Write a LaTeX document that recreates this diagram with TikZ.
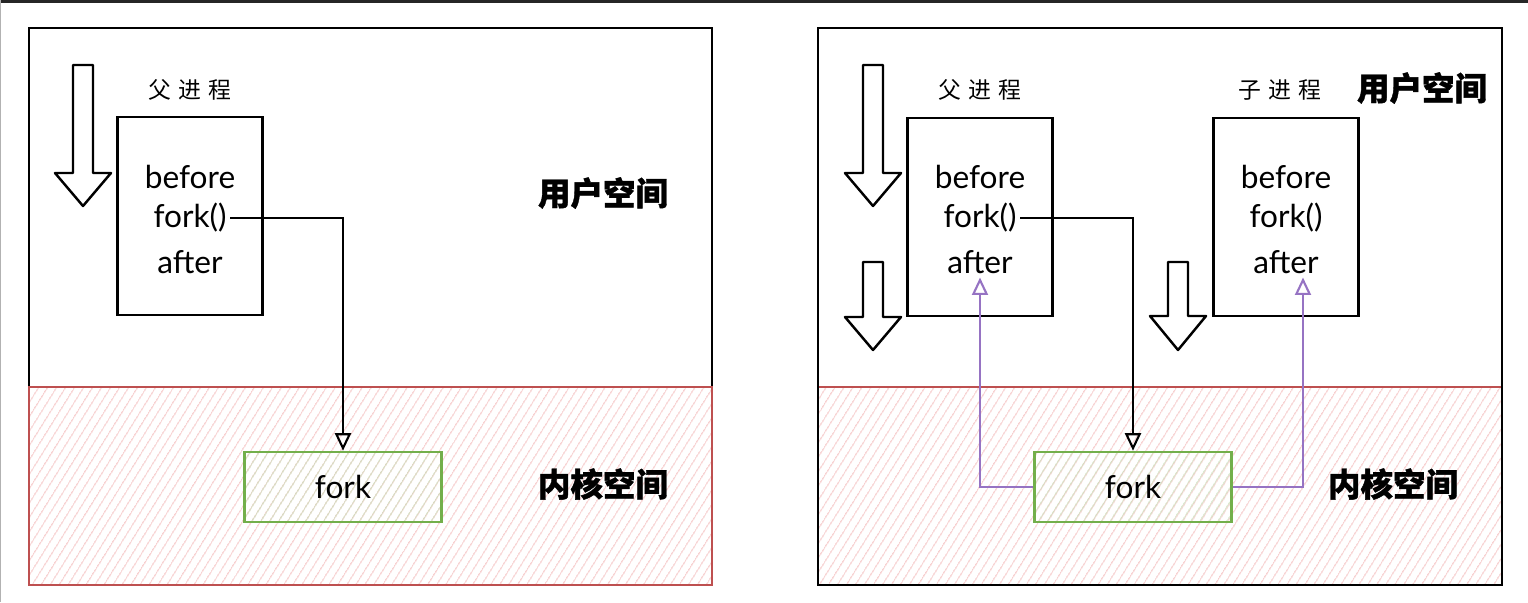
\documentclass[tikz,border=0pt]{standalone}
\usepackage{fontspec}
\setmainfont{Lato}
\newfontfamily\cjk{Noto Sans CJK SC}
\usepackage{xcolor}
\usetikzlibrary{arrows.meta,positioning,patterns.meta}

\definecolor{kred}{RGB}{190,80,80}
\definecolor{khatch}{RGB}{242,180,180}
\definecolor{kgreen}{RGB}{115,175,75}
\definecolor{kpurple}{RGB}{150,115,195}

\begin{document}
\begin{tikzpicture}[x=0.02cm, y=-0.02cm,
  space/.style={draw, line width=1.2pt},
  kernel/.style={draw=kred, line width=1.1pt,
                 pattern={Lines[angle=58, distance=4pt, line width=0.55pt]},
                 pattern color=khatch},
  proc/.style={draw, line width=1.2pt, minimum width=2.9cm,
               minimum height=3.96cm},
  code/.style={font=\fontsize{18}{22}\selectfont, inner sep=2pt},
  sys/.style={draw=kgreen, line width=1.5pt, minimum width=3.94cm,
              minimum height=1.4cm, font=\fontsize{18}{22}\selectfont,
              pattern={Lines[angle=58, distance=4pt, line width=0.55pt]},
              pattern color=kgreen!40},
  ptitle/.style={font=\cjk\fontsize{13}{15}\selectfont\addfontfeature{LetterSpace=30}},
  region/.style={font=\cjk\bfseries\fontsize{18.5}{20}\selectfont\addfontfeature{FakeBold=1.2}},
  flow/.style={draw, line width=1.4pt, fill=white, line join=round},
  call/.style={-{Triangle[open, length=3.5mm, width=3.2mm]}, line width=1.2pt},
  ret/.style={call, draw=kpurple}
]
\useasboundingbox (0,0) rectangle (1528,602);
\draw[line width=2pt, black!85] (0,1) -- (1528,1);
\draw[black!30] (0.5,0) -- (0.5,602);

% left: before fork
\draw[space] (29,28) rectangle (712,387);
\draw[kernel] (29,387) rectangle (712,585);

\draw[flow] (73,65) -- (93,65) -- (93,173) -- (111,173) -- (83,206)
  -- (55,173) -- (73,173) -- cycle;

\node[ptitle] (ltitle) at (190,90) {父进程};
\node[proc] (lproc) at (190,216) {};
\node[code] (lbefore) at (190,177) {before};
\node[code] (lfork) at (190,218) {fork()};
\node[code] (lafter) at (190,262) {after};

\node[sys] (lsys) at (343,487) {fork};

\node[region] (luser) at (603,193) {用户空间};
\node[region] (lkernel) at (603,484) {内核空间};

\draw[call] (lfork.east) -| (lsys.north);

% right: after fork
\draw[kernel] (818,387) rectangle (1502,585);
\draw[space] (818,28) rectangle (1502,585);

\draw[flow] (863,65) -- (883,65) -- (883,173) -- (901,173) -- (873,206)
  -- (845,173) -- (863,173) -- cycle;
\draw[flow] (863,262) -- (883,262) -- (883,317) -- (901,317) -- (873,350)
  -- (845,317) -- (863,317) -- cycle;
\draw[flow] (1168,262) -- (1188,262) -- (1188,316) -- (1206,316) -- (1178,350)
  -- (1150,316) -- (1168,316) -- cycle;

\node[ptitle] (rptitle) at (980,90) {父进程};
\node[ptitle] (rctitle) at (1280,90) {子进程};
\node[proc] (rproc) at (980,217) {};
\node[code] (rbefore) at (980,177) {before};
\node[code] (rfork) at (980,218) {fork()};
\node[code] (rafter) at (980,262) {after};
\node[proc] (cproc) at (1286,217) {};
\node[code] (cbefore) at (1286,177) {before};
\node[code] (cfork) at (1286,218) {fork()};
\node[code] (cafter) at (1286,262) {after};

\node[sys] (rsys) at (1133,487) {fork};

\node[region] (ruser) at (1422,88) {用户空间};
\node[region] (rkernel) at (1393,484) {内核空间};

\draw[call] (rfork.east) -| (rsys.north);
\draw[ret] (rsys.west) -| (rafter.south);
\draw[ret] (rsys.east) -| ([xshift=0.34cm]cafter.south);

\end{tikzpicture}
\end{document}
